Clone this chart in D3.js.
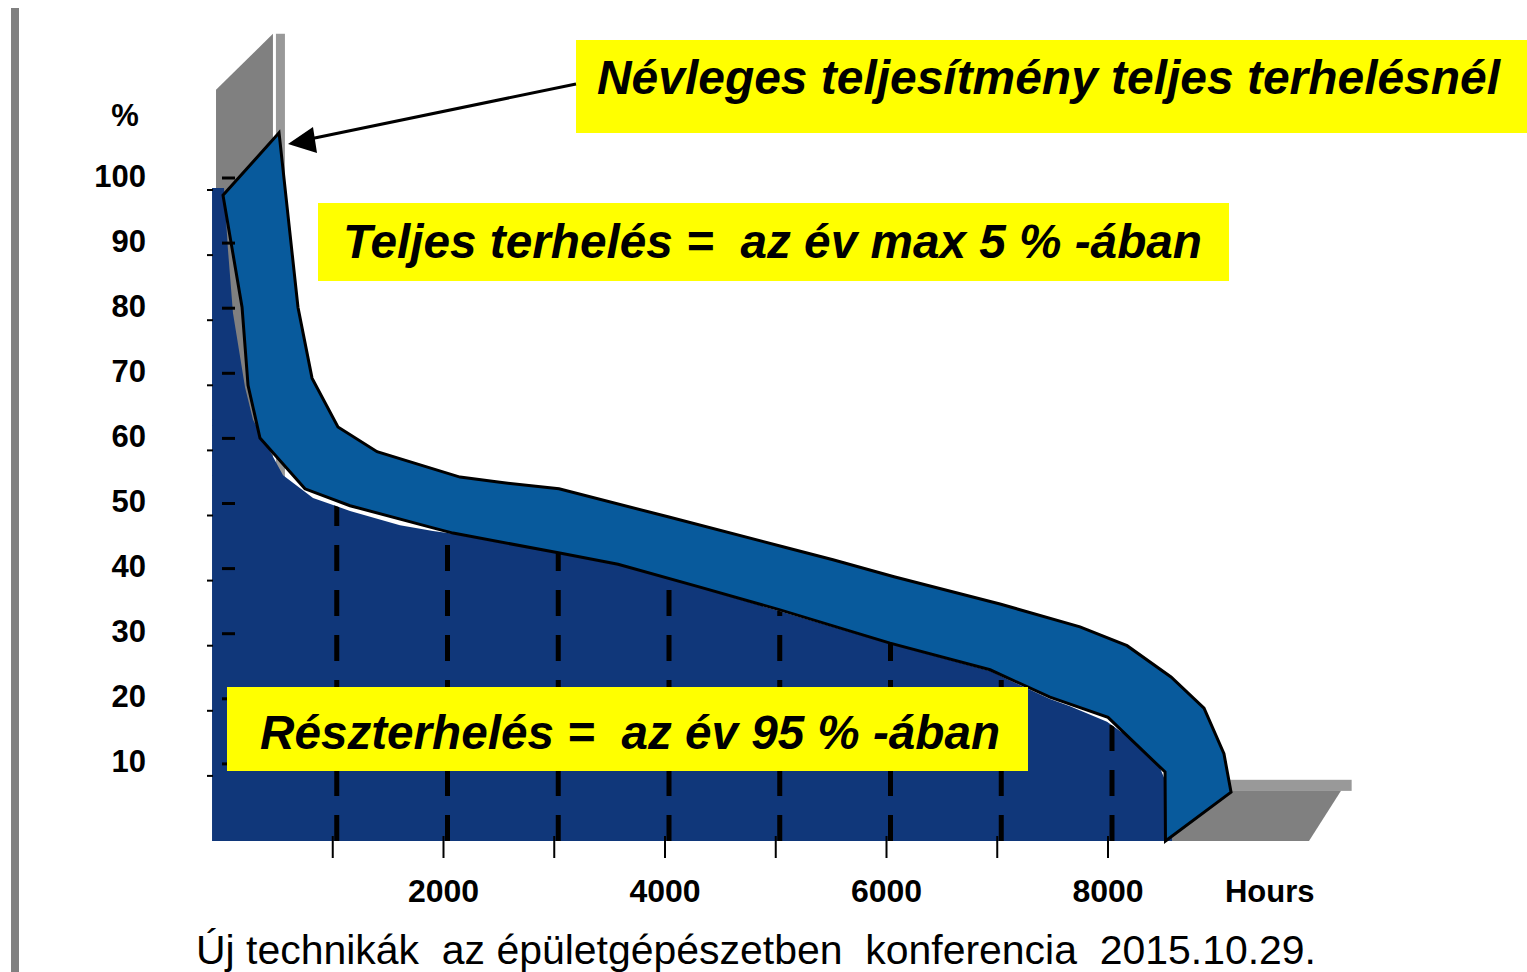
<!DOCTYPE html>
<html>
<head>
<meta charset="utf-8">
<script src="https://cdn.jsdelivr.net/npm/d3@7"></script>
<style>
  body { margin: 0; background: #fff; }
  svg { display: block; font-family: 'Liberation Sans', Arial, sans-serif; }
</style>
</head>
<body>
<svg id="chart"></svg>
<script>
// upper edge of the ribbon (hours, %)
let topHours = [515, 686, 813, 1047, 1400, 2149, 2510, 3043, 4027, 5065, 5517, 6068, 7025, 7747, 8172, 8569, 8867, 9047, 9111];
let topLoad  = [108.8, 82.0, 71.1, 63.6, 59.8, 55.9, 55.1, 54.1, 49.8, 45.2, 43.2, 40.6, 36.4, 32.9, 30.0, 25.2, 20.4, 13.4, 7.5];

// lower edge of the ribbon (hours, %)
let baseHours = [9, 181, 235, 343, 749, 1156, 1905, 2086, 3061, 3576, 4316, 5038, 6032, 6935, 7476, 8000, 8515, 8519];
let baseLoad  = [99.2, 82.0, 70.0, 61.9, 54.1, 51.5, 48.1, 47.3, 44.2, 42.5, 39.0, 35.5, 30.4, 26.3, 22.1, 19.0, 10.6, 0];

// front (dark) area, load duration curve
let areaHours = [-90, 18, 54, 99, 208, 280, 551, 822, 1156, 1607, 1905, 2086, 3061, 3576, 4316, 5038, 6032, 6935, 7476, 7657, 7991, 8289, 8470, 8506, 8578, 8578];
let areaLoad  = [100.3, 100.3, 90.8, 81.1, 69.7, 64.7, 56.2, 52.7, 50.7, 48.5, 47.6, 47.2, 44.1, 42.4, 38.9, 35.3, 30.3, 26.1, 21.8, 20.7, 18.3, 14.7, 11.2, 9.7, 7.8, 0];

let yTicks = [10, 20, 30, 40, 50, 60, 70, 80, 90, 100];
let xTicks = [1000, 2000, 3000, 4000, 5000, 6000, 7000, 8000];
let xLabels = [2000, 4000, 6000, 8000];

let boxTexts = [
  'Névleges teljesítmény teljes terhelésnél',
  'Teljes terhelés =  az év max 5 % -ában',
  'Részterhelés =  az év 95 % -ában'
];
let caption = 'Új technikák  az épületgépészetben  konferencia  2015.10.29.';

let w = 1527;
let h = 972;

let svg = d3.select('#chart').attr('width', w).attr('height', h);

let xScale = d3.scaleLinear().domain([0, 8000]).range([222, 1108]);
let yScale = d3.scaleLinear().domain([0, 100]).range([841, 190]);

let zip = (a, b) => a.map((d, i) => [d, b[i]]);

// left grey rule of the slide
svg.append('rect')
  .attr('x', 11).attr('y', 8).attr('width', 8).attr('height', h - 8)
  .attr('fill', '#808080');

// 3D frame: side wall and floor
let wallL = xScale(-54), wallR = xScale(460);
svg.append('polygon')
  .attr('points', [[wallL, yScale(115.4)], [wallR, yScale(124)], [wallR, yScale(0)], [wallL, yScale(0)]].join(' '))
  .attr('fill', '#808080');
svg.append('rect')
  .attr('x', xScale(487)).attr('y', yScale(124)).attr('width', 9).attr('height', yScale(0) - yScale(124))
  .attr('fill', '#999999');

svg.append('rect')
  .attr('x', xScale(9054)).attr('y', yScale(9.4)).attr('width', xScale(10200) - xScale(9054)).attr('height', yScale(7.7) - yScale(9.4))
  .attr('fill', '#999999');
svg.append('polygon')
  .attr('points', [[xScale(8519), yScale(0)], [xScale(9815), yScale(0)], [xScale(10104), yScale(7.7)], [xScale(9100), yScale(7.7)]].join(' '))
  .attr('fill', '#808080');

// dark area
let area = d3.area()
  .x(d => xScale(d[0]))
  .y0(yScale(0))
  .y1(d => yScale(d[1]));
let areaData = zip(areaHours, areaLoad);

svg.append('clipPath').attr('id', 'areaClip')
  .append('path').attr('d', area(areaData));

svg.append('path')
  .attr('d', area(areaData))
  .attr('fill', '#10377A');

// dashed hour gridlines inside the area
svg.append('g')
  .attr('clip-path', 'url(#areaClip)')
  .selectAll('line')
  .data(xTicks)
  .enter()
  .append('line')
  .attr('x1', d => xScale(d) + 4)
  .attr('x2', d => xScale(d) + 4)
  .attr('y1', yScale(0))
  .attr('y2', yScale(100))
  .attr('stroke', '#000')
  .attr('stroke-width', 5)
  .attr('stroke-dasharray', '26,19');

// ribbon
let line = d3.line().x(d => xScale(d[0])).y(d => yScale(d[1]));
let ribbon = zip(topHours, topLoad).concat(zip(baseHours, baseLoad).reverse());
svg.append('path')
  .attr('d', line(ribbon) + 'Z')
  .attr('fill', '#085A9C')
  .attr('stroke', '#000')
  .attr('stroke-width', 3)
  .attr('stroke-linejoin', 'miter');

// y axis ticks (front and back)
svg.append('g').selectAll('line')
  .data(yTicks)
  .enter()
  .append('line')
  .attr('x1', 207).attr('x2', 213)
  .attr('y1', d => yScale(d)).attr('y2', d => yScale(d))
  .attr('stroke', '#000').attr('stroke-width', 2);

svg.append('g').selectAll('line')
  .data(yTicks)
  .enter()
  .append('line')
  .attr('x1', 222).attr('x2', 235)
  .attr('y1', d => yScale(d) - 12).attr('y2', d => yScale(d) - 12)
  .attr('stroke', '#000').attr('stroke-width', 3);

svg.append('g').selectAll('text')
  .data(yTicks)
  .enter()
  .append('text')
  .attr('x', 146)
  .attr('y', d => yScale(d) - 3.5)
  .attr('text-anchor', 'end')
  .attr('font-size', 31)
  .attr('font-weight', 'bold')
  .text(d => d);

svg.append('text')
  .attr('x', 125).attr('y', 126)
  .attr('text-anchor', 'middle')
  .attr('font-size', 31).attr('font-weight', 'bold')
  .text('%');

// x axis ticks and labels
svg.append('g').selectAll('line')
  .data(xTicks)
  .enter()
  .append('line')
  .attr('x1', d => xScale(d)).attr('x2', d => xScale(d))
  .attr('y1', 836).attr('y2', 858)
  .attr('stroke', '#000').attr('stroke-width', 2);

svg.append('g').selectAll('text')
  .data(xLabels)
  .enter()
  .append('text')
  .attr('x', d => xScale(d))
  .attr('y', 902)
  .attr('text-anchor', 'middle')
  .attr('font-size', 32)
  .attr('font-weight', 'bold')
  .text(d => d);

svg.append('text')
  .attr('x', xScale(9460)).attr('y', 902)
  .attr('text-anchor', 'middle')
  .attr('font-size', 31).attr('font-weight', 'bold')
  .text('Hours');

// yellow call-out boxes
let boxes = [
  {x: 576, y: 40, w: 951, h: 93, tx: 597, ty: 94, len: 903},
  {x: 318, y: 203, w: 911, h: 78, tx: 343, ty: 258, len: 859},
  {x: 227, y: 687, w: 801, h: 84, tx: 260, ty: 749, len: 740}
];
boxes.forEach((b, i) => {
  svg.append('rect')
    .attr('x', b.x).attr('y', b.y).attr('width', b.w).attr('height', b.h)
    .attr('fill', '#FFFF00');
  svg.append('text')
    .attr('x', b.tx).attr('y', b.ty)
    .attr('font-size', 48)
    .attr('font-weight', 'bold')
    .attr('font-style', 'italic')
    .attr('textLength', b.len)
    .attr('lengthAdjust', 'spacingAndGlyphs')
    .style('white-space', 'pre')
    .text(boxTexts[i]);
});

// arrow to the peak
svg.append('line')
  .attr('x1', 576).attr('y1', 84).attr('x2', 305).attr('y2', 140)
  .attr('stroke', '#000').attr('stroke-width', 3);
svg.append('polygon')
  .attr('points', '288,144 313,127 317,153')
  .attr('fill', '#000');

// caption
svg.append('text')
  .attr('x', 196).attr('y', 964)
  .attr('font-size', 40)
  .attr('textLength', 1120)
  .attr('lengthAdjust', 'spacingAndGlyphs')
  .style('white-space', 'pre')
  .text(caption);
</script>
</body>
</html>
